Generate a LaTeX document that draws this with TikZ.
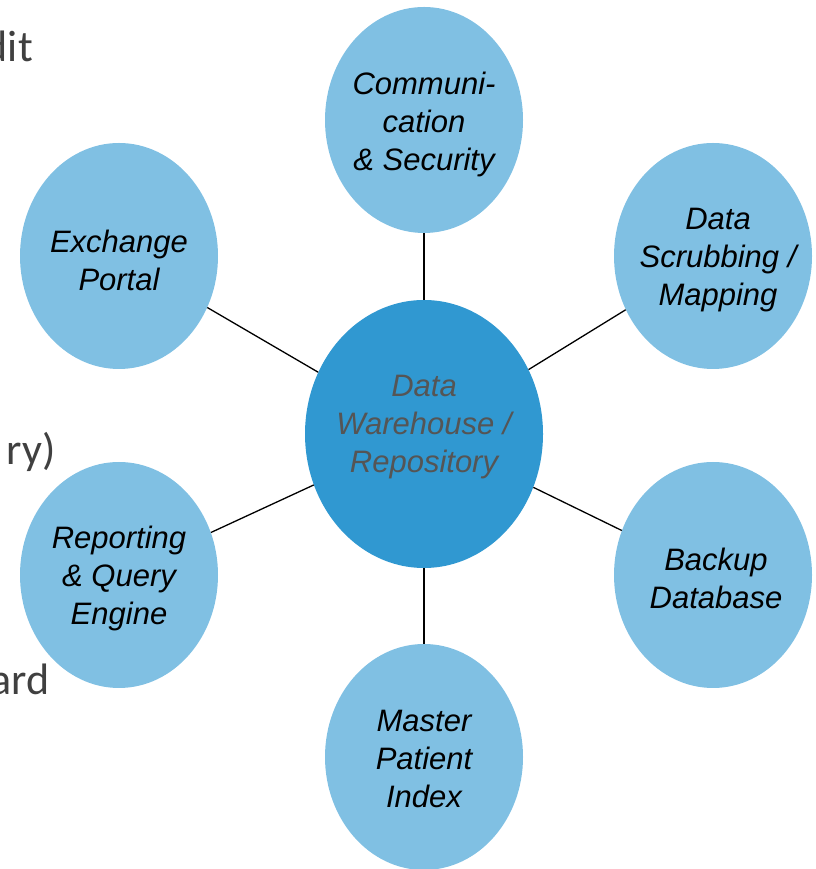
\documentclass[tikz,border=0pt]{standalone}
\usepackage{fontspec}
\setmainfont{Liberation Sans}
\newfontfamily\sidefont{Carlito}
\usetikzlibrary{shapes.geometric}
\definecolor{outerblue}{HTML}{80C0E3}
\definecolor{innerblue}{HTML}{3098D1}
\definecolor{sidegray}{HTML}{404040}
\definecolor{centergray}{HTML}{555555}
\tikzset{
  bub/.style={ellipse, fill=outerblue, inner sep=0pt, minimum width=198pt, minimum height=226pt},
  hub/.style={ellipse, fill=innerblue, inner sep=0pt, minimum width=238pt, minimum height=268pt},
  txt/.style={align=center, inner sep=0pt, font=\fontsize{31}{38}\selectfont\itshape, text=black},
  hubtxt/.style={txt, text=centergray},
  side/.style={anchor=base east, inner sep=0pt, font=\sidefont\fontsize{44}{50}\selectfont, text=sidegray},
  link/.style={draw=black, line width=1.3pt}
}
\begin{document}
\begin{tikzpicture}[x=1pt,y=1pt]
\useasboundingbox (0,0) rectangle (815,869);
\node[side] (s1) at (33,807) {dit};
\node[side] (s2) at (56,404) {ry)};
\node[side] (s3) at (50,174) {ard};

\node[hub] (hub) at (424,435) {};
\node[bub] (comm) at (424,749) {};
\node[bub] (exch) at (119,613) {};
\node[bub] (scrub) at (713,613) {};
\node[bub] (rep) at (119,294) {};
\node[bub] (back) at (713,294) {};
\node[bub] (mpi) at (424,112) {};

\draw[link] (hub) -- (comm);
\draw[link] (hub) -- (exch);
\draw[link] (hub) -- (scrub);
\draw[link] (hub) -- (rep);
\draw[link] (hub) -- (back);
\draw[link] (hub) -- (mpi);

\node[hubtxt] (thub) at (424,442) {Data\\Warehouse /\\Repository};
\node[txt] (tcomm) at (424,745) {Communi-\\cation\\\& Security};
\node[txt] (texch) at (119,609) {Exchange\\Portal};
\node[txt] (tscrub) at (718,609) {Data\\Scrubbing /\\Mapping};
\node[txt] (trep) at (119,291) {Reporting\\\& Query\\Engine};
\node[txt] (tback) at (716,291) {Backup\\Database};
\node[txt] (tmpi) at (424,110) {Master\\Patient\\Index};
\end{tikzpicture}
\end{document}
